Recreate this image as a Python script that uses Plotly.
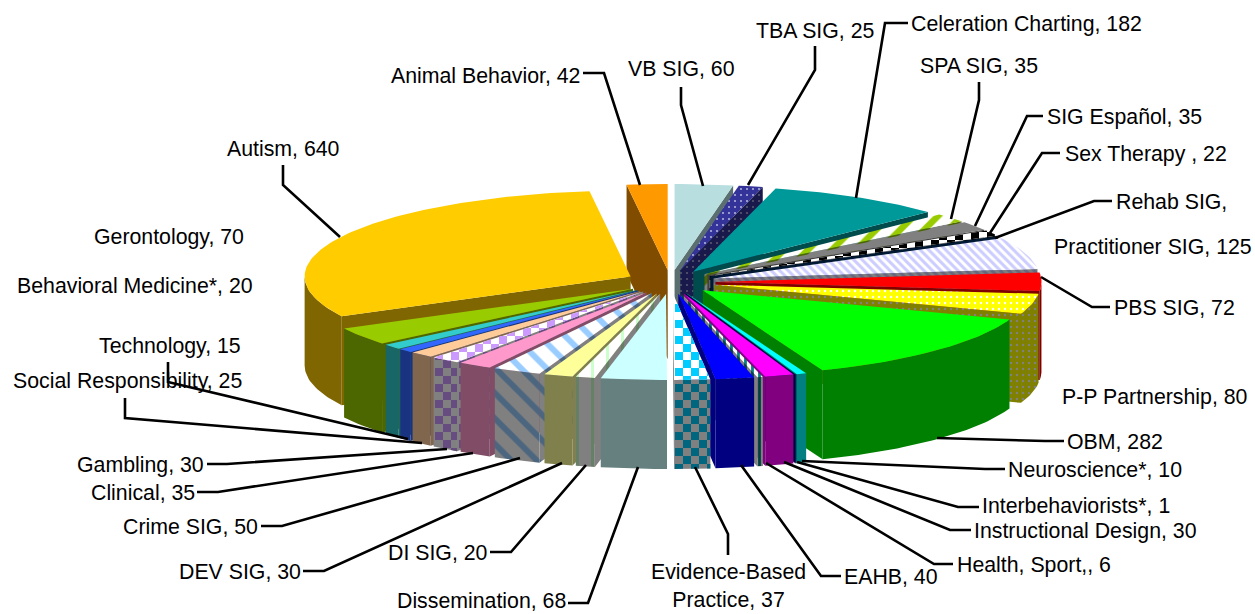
import math
import plotly.graph_objects as go

# ---- data ----
categories = ["VB SIG","TBA SIG","Celeration Charting","SPA SIG","SIG Español","Sex Therapy ","Rehab SIG",
 "Practitioner SIG","PBS SIG","P-P Partnership","OBM","Neuroscience*","Interbehaviorists*","Instructional Design",
 "Health, Sport,","EAHB","Evidence-Based Practice","Dissemination","DI SIG","DEV SIG","Crime SIG","Clinical",
 "Gambling","Social Responsibility","Technology","Behavioral Medicine*","Gerontology","Autism","Animal Behavior"]
values = [60,25,182,35,35,22,1,125,72,80,282,10,1,30,6,40,37,68,20,30,50,35,30,25,15,20,70,640,42]

# ---- styles ----
colors = ["#B8DEE0","#333399","#009999","#FFFFFF","#808080","#FFFFFF","#003366","#FFFFFF","#FF0000","#FFFF00",
 "#00FF00","#00FFFF","#000080","#FF00FF","#FFFFFF","#0000FF","#FFFFFF","#CCFFFF","#FFFFFF","#FFFF99","#FFFFFF",
 "#FF99CC","#FFFFFF","#FFCC99","#3366FF","#33CCCC","#99CC00","#FFCC00","#FF9900"]
patterns = {1:(".","#B0B0DC",6,.1), 3:("/","#99CC00",17,.38), 7:("\\","#CCCCFF",6,.5),
            9:(".","#FFFFFF",6,.12), 14:("|","#008080",7,.4), 18:("|","#CCFFCC",15,.2), 20:("\\","#99CCFF",18,.33)}
checks = {5:("#000000",8), 16:("#00CCFF",8), 22:("#CC99FF",8)}

CX, CY, RX, RY = 670.5, 282.0, 326.0, 86.0
EX, EY, DEPTH = 45.0, 12.0, 89.0

def half(c):
    return "#%02X%02X%02X" % tuple(int(c[i:i+2],16)//2 + (1 if c[i:i+2]=="FF" else 0) for i in (1,3,5))

def clip_convex(subject, poly):
    area = sum(poly[i][0]*poly[(i+1)%len(poly)][1]-poly[(i+1)%len(poly)][0]*poly[i][1] for i in range(len(poly)))
    s = 1 if area > 0 else -1
    out = subject
    for i in range(len(poly)):
        a, b = poly[i], poly[(i+1)%len(poly)]
        f = lambda p: s*((b[0]-a[0])*(p[1]-a[1])-(b[1]-a[1])*(p[0]-a[0]))
        cur, out = out, []
        for j in range(len(cur)):
            p, q = cur[j], cur[(j+1)%len(cur)]
            fp, fq = f(p), f(q)
            if fp >= 0: out.append(p)
            if fp*fq < 0:
                t = fp/(fp-fq)
                out.append((p[0]+t*(q[0]-p[0]), p[1]+t*(q[1]-p[1])))
        if not out: return []
    return out

fig = go.Figure()

def add_poly(poly, color, pat=None, check=None, dim=False):
    xs = [p[0] for p in poly]+[poly[0][0]]
    ys = [p[1] for p in poly]+[poly[0][1]]
    base = half(color) if dim else color
    kw = {}
    if pat:
        fg = half(pat[1]) if dim else pat[1]
        kw["fillpattern"] = dict(shape=pat[0], fgcolor=fg, bgcolor=base, size=pat[2], solidity=pat[3], fillmode="replace")
    fig.add_trace(go.Scatter(x=xs, y=ys, fill="toself", fillcolor=base, mode="lines", line=dict(width=0), hoverinfo="skip", **kw))
    if check:
        fg = half(check[0]) if dim else check[0]
        n = check[1]
        cxs, cys = [], []
        hull = poly if not dim else [poly[0], poly[len(poly)//2-1], poly[len(poly)//2], poly[-1]]
        i0, i1 = int(min(xs)//n), int(max(xs)//n)+1
        j0, j1 = int(min(ys)//n), int(max(ys)//n)+1
        for i in range(i0, i1):
            for j in range(j0, j1):
                if (i+j) % 2: continue
                sq = [(i*n+3.0,j*n),(i*n+n+3.0,j*n),(i*n+n+3.0,j*n+n),(i*n+3.0,j*n+n)]
                c = clip_convex(sq, hull)
                if len(c) >= 3:
                    cxs += [p[0] for p in c]+[c[0][0],None]
                    cys += [p[1] for p in c]+[c[0][1],None]
        fig.add_trace(go.Scatter(x=cxs, y=cys, fill="toself", fillcolor=fg, mode="lines", line=dict(width=0), hoverinfo="skip"))

total = sum(values)
slices = []
cum = 0
for i, v in enumerate(values):
    a1 = cum/total*2*math.pi
    cum += v
    a2 = cum/total*2*math.pi
    slices.append((math.cos((a1+a2)/2), i, a1, a2))

for _, i, a1, a2 in sorted(slices, key=lambda t: -t[0]):
    mid = (a1+a2)/2
    ax, ay = CX+EX*math.sin(mid), CY-EY*math.cos(mid)
    pt = lambda a: (ax+RX*math.sin(a), ay-RY*math.cos(a))
    n = max(2, int((a2-a1)/0.02))
    angs = [a1+(a2-a1)*k/n for k in range(n+1)]
    arc = [pt(a) for a in angs]
    down = lambda p: (p[0], p[1]+DEPTH)
    c, pat, chk = colors[i], patterns.get(i), checks.get(i)
    if math.sin(a1) < 0:
        q = [(ax,ay), arc[0], down(arc[0]), down((ax,ay))]
        add_poly(q, c, pat, chk, True)
    if math.sin(a2) > 0:
        q = [(ax,ay), arc[-1], down(arc[-1]), down((ax,ay))]
        add_poly(q, c, pat, chk, True)
    vis = [pt(a) for a in angs if math.cos(a) < 0]
    if len(vis) >= 2:
        add_poly(vis+[down(p) for p in reversed(vis)], c, pat, chk, True)
    add_poly([(ax,ay)]+arc, c, pat, chk, False)

# ---- leader lines and labels (layout, not data) ----
leaders = [
 [(681,87),(681,105),(703,186)], [(815,46),(815,70),(748,185)], [(908,23),(885,23),(856,198)],
 [(979,82),(979,100),(951,219)], [(1043,116),(1027,116),(975,226)], [(1060,153),(1042,153),(990,233)],
 [(1112,201),(1094,201),(995,238)], [(1110,307),(1092,307),(1041,277)], [(1064,441),(1045,441),(937,438)],
 [(1005,469),(985,469),(802,461)], [(979,507),(958,507),(797,462)], [(971,530),(950,530),(784,462)],
 [(953,564),(934,564),(766,463)], [(841,576),(821,576),(741,465)], [(728,555),(728,534),(695,467)],
 [(568,603),(588,603),(638,467)], [(490,552),(511,552),(586,465)], [(303,571),(324,571),(562,463)],
 [(261,526),(282,526),(520,458)], [(197,492),(218,492),(473,453)], [(207,464),(227,464),(447,449)],
 [(125,398),(125,418),(422,443)], [(168,362),(168,382),(408,439)], [(283,165),(283,185),(340,237)],
 [(583,73),(604,73),(640,185)],
]
for l in leaders:
    fig.add_trace(go.Scatter(x=[p[0] for p in l], y=[p[1] for p in l], mode="lines",
                             line=dict(color="#000000", width=2.6), hoverinfo="skip"))

label_pos = {
 0:(681,68,"center"),1:(815,30,"center"),2:(911,23,"left"),3:(979,65,"center"),4:(1047,116,"left"),5:(1065,153,"left"),
 6:(1116,201,"left"),7:(1054,246,"left"),8:(1114,307,"left"),9:(1062,396,"left"),10:(1067,441,"left"),11:(1008,469,"left"),
 12:(982,505,"left"),13:(974,530,"left"),14:(957,564,"left"),15:(844,576,"left"),16:(728,585,"center"),17:(566,600,"right"),
 18:(488,552,"right"),19:(301,571,"right"),20:(258,526,"right"),21:(195,492,"right"),22:(204,464,"right"),23:(242,380,"right"),
 24:(241,345,"right"),25:(253,285,"right"),26:(244,236,"right"),27:(340,148,"right"),28:(580,75,"right"),
}
for i, (x, y, al) in label_pos.items():
    name = categories[i]
    if i == 6:
        txt = "Rehab SIG,"
    elif i == 16:
        txt = "Evidence-Based<br>Practice, %d" % values[i]
    else:
        txt = "%s, %d" % (name, values[i])
    fig.add_annotation(x=x, y=y+1, text=txt, showarrow=False, xanchor=al, yanchor="middle", align="center",
                       font=dict(family="Liberation Sans, Arial", size=21.3, color="#000000"), borderpad=0, borderwidth=0)

fig.update_layout(width=1255, height=614, margin=dict(l=0,r=0,t=0,b=0), showlegend=False,
                  paper_bgcolor="#FFFFFF", plot_bgcolor="#FFFFFF",
                  xaxis=dict(range=[0,1255], visible=False, fixedrange=True),
                  yaxis=dict(range=[614,0], visible=False, fixedrange=True))
fig.write_html("out.html", config={"displayModeBar":False},
               post_script="document.body.style.margin='0';document.body.style.overflow='hidden';")
